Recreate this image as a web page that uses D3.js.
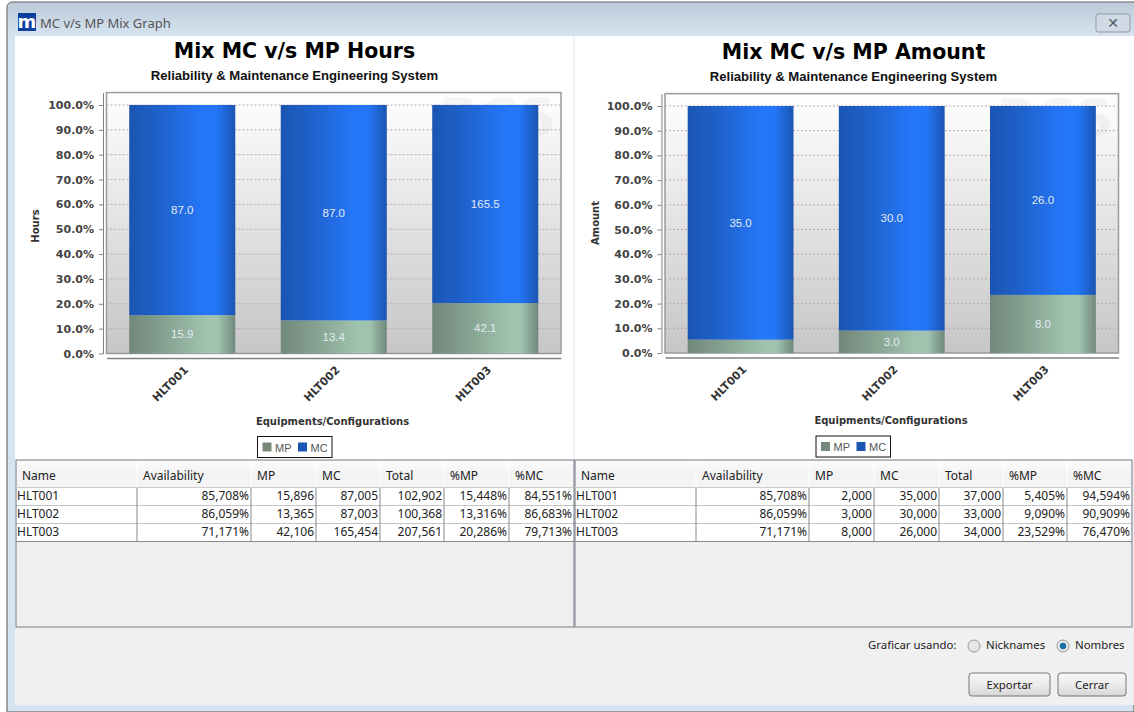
<!DOCTYPE html>
<html>
<head>
<meta charset="utf-8">
<script src="https://cdn.jsdelivr.net/npm/d3@7"></script>
<style>
html, body { margin: 0; padding: 0; background: #fff; }
svg { display: block; }
.tick-y text { font: bold 11px "DejaVu Sans"; fill: #444; }
.cat text { font: bold 11px "DejaVu Sans"; fill: #333; }
.cell { font: 12px "Noto Sans"; fill: #222; }
.ui { font: 11.4px "Noto Sans"; fill: #222; }
</style>
</head>
<body>
<div id="container"></div>
<script>
var categories = ["HLT001", "HLT002", "HLT003"];
var availability = [85.708, 86.059, 71.171];

var hoursMP = [15.896, 13.365, 42.106];
var hoursMC = [87.005, 87.003, 165.454];
var hoursTotal = [102.902, 100.368, 207.561];
var hoursPctMP = [15.448, 13.316, 20.286];
var hoursPctMC = [84.551, 86.683, 79.713];

var amountMP = [2, 3, 8];
var amountMC = [35, 30, 26];
var amountTotal = [37, 33, 34];
var amountPctMP = [5.405, 9.090, 23.529];
var amountPctMC = [94.594, 90.909, 76.470];

var yTicks = [0, .1, .2, .3, .4, .5, .6, .7, .8, .9, 1];
var seriesNames = ["MP", "MC"];
var seriesColors = { MP: "#74897a", MC: "#1c56b4" };
var tableHeaders = ["Name", "Availability", "MP", "MC", "Total", "%MP", "%MC"];

var svg = d3.select("#container").append("svg")
    .attr("width", 1134)
    .attr("height", 712);
var defs = svg.append("defs");

function gradient(id, x2, y2, stops) {
    var g = defs.append("linearGradient").attr("id", id)
        .attr("x1", 0).attr("y1", 0).attr("x2", x2).attr("y2", y2);
    stops.forEach(function(s) {
        g.append("stop").attr("offset", s[0]).attr("stop-color", s[1]);
    });
}
gradient("plotBg", 0, 1, [[0, "#ffffff"], [1, "#c6c6c6"]]);
gradient("barMC", 1, 0, [[0, "#1b55b2"], [.3, "#1f62cc"], [.68, "#2476f8"], [.82, "#2476f8"], [1, "#1b55b2"]]);
gradient("barMP", 1, 0, [[0, "#71887a"], [.35, "#87a392"], [.72, "#9fc3af"], [.84, "#9fc3af"], [1, "#71887a"]]);
gradient("titleBar", 0, 1, [[0, "#bccbd9"], [1, "#d6e3f0"]]);
gradient("btn", 0, 1, [[0, "#f6f6f6"], [.5, "#ececec"], [1, "#d6d6d6"]]);
gradient("head", 0, 1, [[0, "#fbfbfb"], [.5, "#f3f3f3"], [1, "#f5f5f5"]]);

// window frame
svg.append("path").attr("d", "M7,712V8Q7,2,13,2H1134V712Z").attr("fill", "#d6e3f1").attr("stroke", "#555");
svg.append("path").attr("d", "M8,36V8Q8,3,13,3H1134V36Z").attr("fill", "url(#titleBar)");
svg.append("rect").attr("x", 15).attr("y", 36).attr("width", 1119).attr("height", 424).attr("fill", "#fff");
svg.append("rect").attr("x", 15).attr("y", 460).attr("width", 1119).attr("height", 245).attr("fill", "#f0f0f0");
svg.append("line").attr("x1", 574).attr("x2", 574).attr("y1", 36).attr("y2", 460).attr("stroke", "#e4e4e4");

svg.append("rect").attr("x", 18).attr("y", 13).attr("width", 18).attr("height", 18).attr("fill", "#0d3f9f");
svg.append("text").attr("x", 27).attr("y", 28).attr("text-anchor", "middle")
    .style("font", "bold 18px 'DejaVu Sans'").attr("fill", "#fff").text("m");
svg.append("text").attr("x", 40).attr("y", 28)
    .style("font", "13px 'Noto Sans'").attr("fill", "#555").text("MC v/s MP Mix Graph");

var closeBtn = svg.append("g");
closeBtn.append("rect").attr("x", 1096).attr("y", 14).attr("width", 34).attr("height", 18).attr("rx", 2)
    .attr("fill", "#cfdae5").attr("stroke", "#8d99a5");
closeBtn.append("text").attr("x", 1113).attr("y", 28).attr("text-anchor", "middle")
    .style("font", "bold 14px 'DejaVu Sans'").attr("fill", "#4c5866").text("✕");

function drawChart(opt) {
    var dx = opt.dx;
    var g = svg.append("g").attr("transform", "translate(" + dx + ",0)");
    var left = 106.5, right = opt.right;

    g.append("text").attr("x", opt.titleX).attr("y", opt.titleY).attr("text-anchor", "middle")
        .style("font", "bold 20.5px 'DejaVu Sans'").attr("fill", "#000").text(opt.title);
    g.append("text").attr("x", opt.titleX).attr("y", opt.titleY + 22).attr("text-anchor", "middle")
        .style("font", "bold 13.1px 'Liberation Sans'").attr("fill", "#111")
        .text("Reliability & Maintenance Engineering System");

    var x = d3.scaleBand().domain(categories).range([left, right]).paddingInner(.3).paddingOuter(.15);
    var y = d3.scaleLinear().domain([0, 1.05]).range([opt.zero, opt.zero - opt.full * 1.05]);

    g.append("rect").attr("x", left).attr("y", y(1.05)).attr("width", right - left).attr("height", opt.zero - y(1.05))
        .attr("fill", "url(#plotBg)").attr("stroke", "#9a9a9a").attr("stroke-width", 1.5);
    g.append("text").attr("x", right - 5).attr("y", y(1.05) + 42).attr("text-anchor", "end")
        .style("font", "bold 52px 'DejaVu Sans'").attr("fill", "#000").attr("fill-opacity", .035).text("RCS");

    g.append("g").selectAll("line").data(yTicks.slice(1)).enter().append("line")
        .attr("x1", left).attr("x2", right)
        .attr("y1", function(d) { return y(d); })
        .attr("y2", function(d) { return y(d); })
        .attr("stroke", "#c0a4b8").attr("stroke-dasharray", "2,2");

    var rows = categories.map(function(c, i) {
        return { name: c, MP: opt.mp[i], MC: opt.mc[i] };
    });
    var stacked = d3.stack().keys(seriesNames).offset(d3.stackOffsetExpand)(rows);

    var layers = g.append("g").selectAll("g").data(stacked).enter().append("g");
    layers.selectAll("rect").data(function(s) {
        return s.map(function(d) { return { key: s.key, y0: d[0], y1: d[1], name: d.data.name, value: d.data[s.key] }; });
    }).enter().append("rect")
        .attr("x", function(d) { return x(d.name); })
        .attr("width", x.bandwidth())
        .attr("y", function(d) { return y(d.y1); })
        .attr("height", function(d) { return y(d.y0) - y(d.y1); })
        .attr("fill", function(d) { return "url(#bar" + d.key + ")"; });

    // labels are dropped when the segment is too short, same as the original
    layers.selectAll("text").data(function(s) {
        return s.map(function(d) { return { y0: d[0], y1: d[1], name: d.data.name, value: d.data[s.key] }; })
            .filter(function(d) { return y(d.y0) - y(d.y1) > 16; });
    }).enter().append("text")
        .attr("x", function(d) { return x(d.name) + x.bandwidth() / 2; })
        .attr("y", function(d) { return y((d.y0 + d.y1) / 2) + 4; })
        .attr("text-anchor", "middle")
        .style("font", "11.5px 'Liberation Sans'")
        .attr("fill", "#e4eaf2")
        .text(function(d) { return d3.format(".1f")(d.value); });

    var yAxis = g.append("g").attr("class", "tick-y")
        .attr("transform", "translate(" + (left - 3.5) + ",0)")
        .call(d3.axisLeft(y).tickValues(yTicks).tickFormat(d3.format(".1%")).tickSize(4).tickPadding(5).tickSizeOuter(0));
    yAxis.selectAll("line, path").attr("stroke", "#808080");

    var xAxis = g.append("g").attr("class", "cat")
        .attr("transform", "translate(0," + (opt.zero + 4.5) + ")")
        .call(d3.axisBottom(x).tickSize(0));
    xAxis.select("path").attr("stroke", "#808080").attr("stroke-width", 1.5);
    xAxis.selectAll("text")
        .attr("text-anchor", "end")
        .attr("transform", "translate(-1,5) rotate(-45)")
        .attr("dy", "0.7em");

    g.append("text").attr("transform", "translate(" + opt.yTitleX + "," + opt.yTitleY + ") rotate(-90)")
        .attr("text-anchor", "middle")
        .style("font", "bold 10px 'DejaVu Sans'").attr("fill", "#333").text(opt.yTitle);
    g.append("text").attr("x", 332.5).attr("y", opt.zero + 71).attr("text-anchor", "middle")
        .style("font", "bold 10px 'DejaVu Sans'").attr("fill", "#333").text("Equipments/Configurations");

    var legend = g.append("g").attr("transform", "translate(257.5," + (opt.zero + 83) + ")");
    legend.append("rect").attr("width", 74.5).attr("height", 21).attr("fill", "#fff").attr("stroke", "#111");
    seriesNames.forEach(function(name, i) {
        var lx = 5 + i * 35.5;
        legend.append("rect").attr("x", lx).attr("y", 6).attr("width", 9).attr("height", 9).attr("fill", seriesColors[name]);
        legend.append("text").attr("x", lx + 12.5).attr("y", 15)
            .style("font", "11px 'Liberation Sans'").attr("fill", "#555").text(name);
    });
}

drawChart({
    dx: 0, right: 561, title: "Mix MC v/s MP Hours", titleX: 294.5, titleY: 58,
    zero: 353.5, full: 248.5, mp: hoursMP, mc: hoursMC,
    yTitle: "Hours", yTitleX: 39, yTitleY: 226
});
drawChart({
    dx: 558.5, right: 560, title: "Mix MC v/s MP Amount", titleX: 295, titleY: 59,
    zero: 353, full: 247, mp: amountMP, mc: amountMC,
    yTitle: "Amount", yTitleX: 40, yTitleY: 223
});

function num(v, suffix) {
    return v.toFixed(3).replace(".", ",") + (suffix || "");
}

function drawTable(x0, cols, mp, mc, total, pctMP, pctMC) {
    var g = svg.append("g");
    var x1 = cols[cols.length - 1];
    g.append("rect").attr("x", x0).attr("y", 460).attr("width", x1 - x0).attr("height", 167)
        .attr("fill", "#efefef").attr("stroke", "#838892").attr("stroke-width", 1.1);
    g.append("rect").attr("x", x0 + 1).attr("y", 461).attr("width", x1 - x0 - 2).attr("height", 26).attr("fill", "url(#head)");

    var edges = [x0].concat(cols);
    tableHeaders.forEach(function(h, i) {
        g.append("text").attr("class", "cell").attr("x", edges[i] + 6).attr("y", 480).attr("fill", "#333").text(h);
        if (i > 0) {
            g.append("line").attr("x1", edges[i]).attr("x2", edges[i]).attr("y1", 461).attr("y2", 487).attr("stroke", "#fff");
        }
    });

    var rowY = d3.scaleBand().domain(categories).range([487.5, 541.5]);
    categories.forEach(function(c, r) {
        var top = rowY(c), h = rowY.bandwidth();
        g.append("rect").attr("x", x0 + 1).attr("y", top).attr("width", x1 - x0 - 2).attr("height", h)
            .attr("fill", "#fff");
        g.append("line").attr("x1", x0).attr("x2", x1).attr("y1", top + h).attr("y2", top + h)
            .attr("stroke", "#888").attr("stroke-width", 1.2);
        var values = [c, num(availability[r], "%"), num(mp[r]), num(mc[r]), num(total[r]), num(pctMP[r], "%"), num(pctMC[r], "%")];
        values.forEach(function(v, i) {
            var t = g.append("text").attr("class", "cell").attr("y", top + 12.5).text(v);
            if (i === 0) t.attr("x", edges[0] + 1);
            else t.attr("x", edges[i + 1] - 2).attr("text-anchor", "end");
        });
    });
    g.append("line").attr("x1", x0).attr("x2", x1).attr("y1", 487.5).attr("y2", 487.5).attr("stroke", "#ccc");
    edges.slice(1, -1).forEach(function(e) {
        g.append("line").attr("x1", e).attr("x2", e).attr("y1", 488).attr("y2", 541.5).attr("stroke", "#888");
    });
}

drawTable(16, [137, 251, 316, 380, 444, 509, 574], hoursMP, hoursMC, hoursTotal, hoursPctMP, hoursPctMC);
drawTable(575, [696, 809, 874, 939, 1003, 1067, 1132], amountMP, amountMC, amountTotal, amountPctMP, amountPctMC);

// bottom controls
var ui = svg.append("g");
ui.append("text").attr("class", "ui").attr("x", 868).attr("y", 649).text("Graficar usando:");
ui.append("circle").attr("cx", 974).attr("cy", 646).attr("r", 6).attr("fill", "#e6e6e6").attr("stroke", "#999");
ui.append("text").attr("class", "ui").attr("x", 986).attr("y", 649).text("Nicknames");
ui.append("circle").attr("cx", 1063).attr("cy", 646).attr("r", 6).attr("fill", "#e6e6e6").attr("stroke", "#999");
ui.append("circle").attr("cx", 1063).attr("cy", 646).attr("r", 3.2).attr("fill", "#1a6fa8");
ui.append("text").attr("class", "ui").attr("x", 1075).attr("y", 649).text("Nombres");

[["Exportar", 969, 81], ["Cerrar", 1058, 68]].forEach(function(b) {
    ui.append("rect").attr("x", b[1]).attr("y", 673).attr("width", b[2]).attr("height", 23).attr("rx", 3)
        .attr("fill", "url(#btn)").attr("stroke", "#777");
    ui.append("text").attr("class", "ui").attr("x", b[1] + b[2] / 2).attr("y", 689)
        .attr("text-anchor", "middle").text(b[0]);
});
</script>
</body>
</html>
